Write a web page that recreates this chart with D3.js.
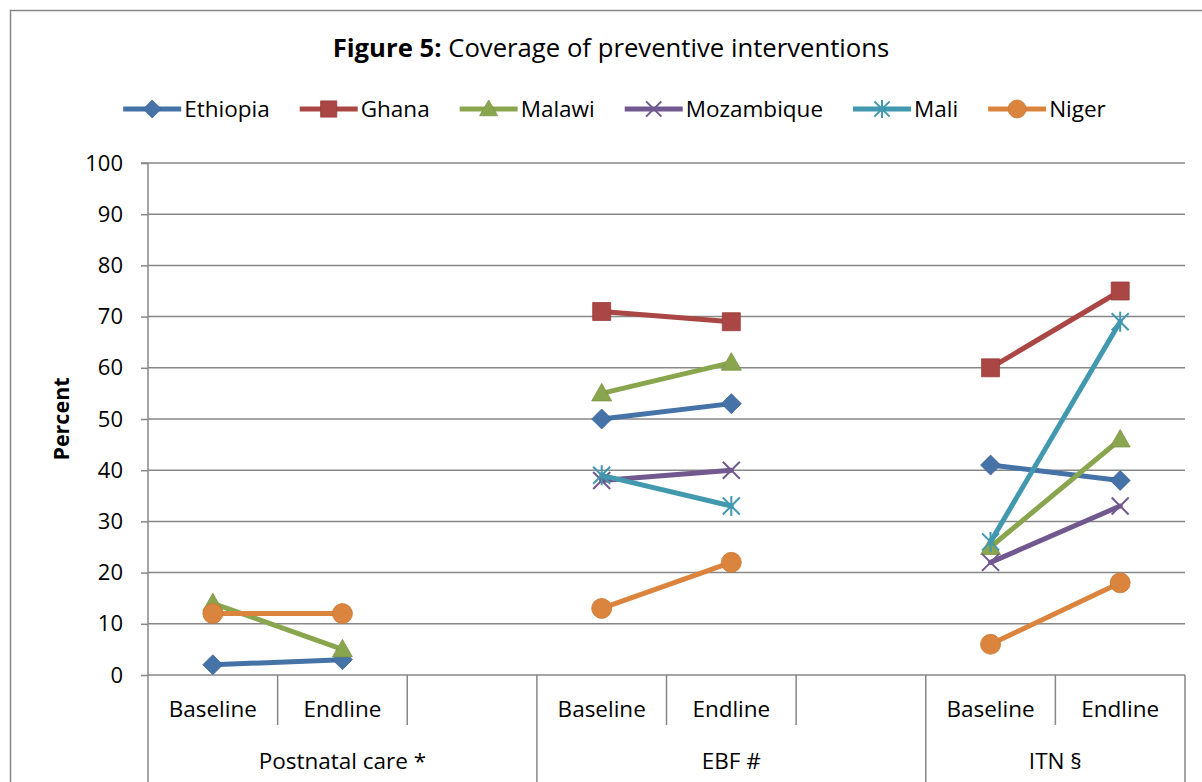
<!DOCTYPE html>
<html>
<head>
<meta charset="utf-8">
<script src="https://cdn.jsdelivr.net/npm/d3@7"></script>
<style>
  html, body { margin: 0; padding: 0; background: #fff; }
  svg { display: block; font-family: "Open Sans", Lato, sans-serif; }
</style>
</head>
<body>
<svg id="chart" width="1202" height="782"></svg>
<script>
// Category slots along the x axis (blank slots separate the three groups)
const categories = ["Baseline", "Endline", "", "Baseline", "Endline", "", "Baseline", "Endline"];
const groups = [
  { label: "Postnatal care *", from: 0, to: 3 },
  { label: "EBF #", from: 3, to: 6 },
  { label: "ITN §", from: 6, to: 8 }
];
const yTicks = [0, 10, 20, 30, 40, 50, 60, 70, 80, 90, 100];

// Percent coverage per country, one value per category slot (null = no data)
const ethiopia   = [2, 3, null, 50, 53, null, 41, 38];
const ghana      = [null, null, null, 71, 69, null, 60, 75];
const malawi     = [14, 5, null, 55, 61, null, 25, 46];
const mozambique = [null, null, null, 38, 40, null, 22, 33];
const mali       = [null, null, null, 39, 33, null, 26, 69];
const niger      = [12, 12, null, 13, 22, null, 6, 18];

const seriesNames = ["Ethiopia", "Ghana", "Malawi", "Mozambique", "Mali", "Niger"];
const seriesValues = [ethiopia, ghana, malawi, mozambique, mali, niger];
const seriesColors = ["#4572A7", "#AA4643", "#89A54E", "#71588F", "#4198AF", "#DB843D"];
const seriesMarkers = ["diamond", "square", "triangle", "x", "asterisk", "circle"];

const svg = d3.select("#chart");
const gridColor = "#878787";
const fontFamily = "'Open Sans', Lato, sans-serif";
const labelSize = 22.5;

// Outer chart frame
svg.append("rect")
  .attr("x", 10.5).attr("y", 10.5)
  .attr("width", 1240).attr("height", 800)
  .attr("fill", "none").attr("stroke", gridColor).attr("stroke-width", 1.5);

const plot = { left: 148, right: 1185, top: 163, bottom: 675 };

const x = d3.scaleBand()
  .domain(d3.range(categories.length))
  .range([plot.left, plot.right])
  .paddingInner(0).paddingOuter(0);

const y = d3.scaleLinear().domain([0, 100]).range([plot.bottom, plot.top]);

// Title
const title = svg.append("text")
  .attr("x", 611).attr("y", 57)
  .attr("text-anchor", "middle")
  .attr("font-size", 25.7)
  .attr("fill", "#000");
title.append("tspan").attr("font-weight", "bold").text("Figure 5:");
title.append("tspan").text(" Coverage of preventive interventions");

// Horizontal gridlines
svg.append("g")
  .selectAll("line")
  .data(yTicks.filter(t => t > 0))
  .join("line")
  .attr("x1", plot.left).attr("x2", plot.right)
  .attr("y1", d => y(d)).attr("y2", d => y(d))
  .attr("stroke", gridColor).attr("stroke-width", 1.5);

// Y axis
const yAxis = svg.append("g")
  .attr("transform", `translate(${plot.left},0)`)
  .call(d3.axisLeft(y).tickValues(yTicks).tickSize(7).tickPadding(18).tickFormat(d3.format("d")));
yAxis.selectAll("path, line").attr("stroke", gridColor).attr("stroke-width", 1.5);
yAxis.select(".domain").attr("d", `M0,${plot.bottom}V${plot.top}M-7,${plot.top}H0`);
yAxis.selectAll("text").attr("font-size", 22).attr("fill", "#000")
  .attr("font-family", fontFamily);

// Y axis title
svg.append("text")
  .attr("transform", `translate(69,${(plot.top + plot.bottom) / 2}) rotate(-90)`)
  .attr("text-anchor", "middle")
  .attr("font-size", 21.5).attr("font-weight", "bold")
  .text("Percent");

// X axis baseline
svg.append("line")
  .attr("x1", plot.left).attr("x2", plot.right)
  .attr("y1", plot.bottom).attr("y2", plot.bottom)
  .attr("stroke", gridColor).attr("stroke-width", 1.5);

// Category dividers: short between slots, long at group boundaries
const groupEdges = new Set(groups.flatMap(g => [g.from, g.to]));
const edges = d3.range(categories.length + 1);
svg.append("g")
  .selectAll("line")
  .data(edges)
  .join("line")
  .attr("x1", i => i === categories.length ? plot.right : x(i))
  .attr("x2", i => i === categories.length ? plot.right : x(i))
  .attr("y1", plot.bottom)
  .attr("y2", i => groupEdges.has(i) ? 782 : 725)
  .attr("stroke", gridColor).attr("stroke-width", 1.5);

// Category labels
svg.append("g")
  .selectAll("text")
  .data(categories)
  .join("text")
  .attr("x", (d, i) => x(i) + x.bandwidth() / 2)
  .attr("y", 717)
  .attr("text-anchor", "middle")
  .attr("font-size", labelSize)
  .text(d => d);

// Group labels
svg.append("g")
  .selectAll("text")
  .data(groups)
  .join("text")
  .attr("x", g => (x(g.from) + (g.to === categories.length ? plot.right : x(g.to))) / 2)
  .attr("y", 769)
  .attr("text-anchor", "middle")
  .attr("font-size", labelSize)
  .text(g => g.label);

// Marker shapes
function markerPath(type, s) {
  const h = s / 2;
  switch (type) {
    case "diamond": return `M0,${-h}L${h},0L0,${h}L${-h},0Z`;
    case "square": { const q = h * 0.9; return `M${-q},${-q}H${q}V${q}H${-q}Z`; }
    case "triangle": return `M0,${-h}L${h},${h * 0.75}L${-h},${h * 0.75}Z`;
    case "circle": return d3.symbol(d3.symbolCircle, Math.PI * h * h)();
    case "x": { const q = h * 0.85; return `M${-q},${-q}L${q},${q}M${-q},${q}L${q},${-q}`; }
    case "asterisk": { const q = h * 0.85; return `M${-q},${-q}L${q},${q}M${-q},${q}L${q},${-q}M0,${-h}V${h}`; }
  }
}
function drawMarker(sel, type, color, s) {
  const p = sel.append("path").attr("d", markerPath(type, s));
  if (type === "x" || type === "asterisk") {
    p.attr("fill", "none").attr("stroke", color).attr("stroke-width", 2);
  } else {
    p.attr("fill", color).attr("stroke", d3.color(color).darker(0.3)).attr("stroke-width", 0.8);
  }
}

// Series lines and markers
const line = d3.line()
  .defined(d => d.v != null)
  .x(d => x(d.i) + x.bandwidth() / 2)
  .y(d => y(d.v));

seriesNames.forEach((name, k) => {
  const pts = seriesValues[k].map((v, i) => ({ i, v }));
  const g = svg.append("g").attr("class", "series");
  g.append("path")
    .attr("d", line(pts))
    .attr("fill", "none")
    .attr("stroke", seriesColors[k])
    .attr("stroke-width", 5)
    .attr("stroke-linecap", "round")
    .attr("stroke-linejoin", "round");
  pts.filter(d => d.v != null).forEach(d => {
    const m = g.append("g")
      .attr("transform", `translate(${x(d.i) + x.bandwidth() / 2},${y(d.v)})`);
    drawMarker(m, seriesMarkers[k], seriesColors[k], 20);
  });
});

// Legend
const legend = svg.append("g");
let cursor = 0;
const lineLen = 58, gapText = 3, gapItem = 30;
seriesNames.forEach((name, k) => {
  const it = legend.append("g");
  it.append("line")
    .attr("x1", 0).attr("x2", lineLen).attr("y1", 0).attr("y2", 0)
    .attr("stroke", seriesColors[k]).attr("stroke-width", 5);
  const m = it.append("g").attr("transform", `translate(${lineLen / 2},0)`);
  drawMarker(m, seriesMarkers[k], seriesColors[k], 18);
  const t = it.append("text")
    .attr("x", lineLen + gapText).attr("y", 8)
    .attr("font-size", labelSize).text(name);
  const w = lineLen + gapText + t.node().getComputedTextLength();
  it.attr("transform", `translate(${cursor},0)`);
  cursor += w + gapItem;
});
const legendWidth = cursor - gapItem;
legend.attr("transform", `translate(${614.5 - legendWidth / 2},109)`);
</script>
</body>
</html>
